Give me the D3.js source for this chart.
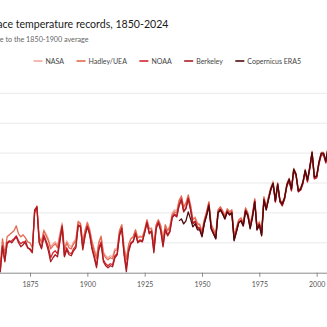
<!DOCTYPE html>
<html>
<head>
<meta charset="utf-8">
<script src="https://cdn.jsdelivr.net/npm/d3@7"></script>
<style>
  html, body { margin: 0; padding: 0; background: #fff; overflow: hidden; }
  svg { display: block; font-family: Lato, "Open Sans", sans-serif; }
</style>
</head>
<body>
<svg id="chart" width="327" height="327"></svg>
<script>
// anomalies in °C relative to the 1850-1900 average
const nasaStart = 1880;
const nasa = [
  0.01, 0.13, 0.09, 0.04, -0.04, -0.01, 0.01, -0.03, 0.09, 0.20,
  -0.06, 0.02, -0.02, -0.04, 0.01, 0.04, 0.22, 0.20, 0.02, 0.13,
  0.21, 0.14, 0.02, -0.06, -0.14, 0.01, 0.07, -0.09, -0.13, -0.15,
  -0.13, -0.14, -0.06, -0.06, 0.12, 0.18, -0.04, -0.16, -0.02, 0.04,
  0.06, 0.13, 0.05, 0.07, 0.05, 0.13, 0.23, 0.14, 0.15, -0.03,
  0.18, 0.23, 0.17, 0.03, 0.18, 0.12, 0.17, 0.30, 0.33, 0.32,
  0.43, 0.46, 0.35, 0.38, 0.46, 0.37, 0.24, 0.26, 0.20, 0.19,
  0.12, 0.23, 0.31, 0.41, 0.19, 0.14, 0.09, 0.33, 0.36, 0.32,
  0.28, 0.34, 0.31, 0.33, 0.07, 0.15, 0.23, 0.25, 0.20, 0.35,
  0.30, 0.18, 0.29, 0.44, 0.16, 0.20, 0.11, 0.46, 0.36, 0.46,
  0.56, 0.62, 0.44, 0.60, 0.43, 0.40, 0.46, 0.60, 0.65, 0.55,
  0.75, 0.69, 0.53, 0.55, 0.61, 0.74, 0.64, 0.77, 0.92, 0.67,
  0.68, 0.82, 0.91, 0.91, 0.83, 0.97, 0.93, 0.96, 0.83, 0.96,
  1.06, 0.93, 0.96, 1.01, 1.05, 1.21, 1.33, 1.24, 1.15, 1.29,
  1.32, 1.16, 1.19, 1.46, 1.56
];
const hadleyStart = 1850;
const hadley = [
  -0.07, 0.08, 0.08, 0.05, 0.05, 0.03, 0.00, -0.12, -0.05, 0.05,
  -0.05, -0.09, -0.22, 0.04, -0.11, 0.06, 0.08, 0.10, 0.12, 0.17,
  0.09, 0.06, 0.08, 0.05, 0.01, 0.00, -0.05, 0.29, 0.37, 0.06,
  0.00, 0.12, 0.07, 0.02, -0.06, -0.03, -0.01, -0.05, 0.07, 0.18,
  -0.08, 0.00, -0.05, -0.06, -0.01, 0.02, 0.21, 0.19, 0.00, 0.12,
  0.20, 0.13, 0.01, -0.08, -0.16, 0.00, 0.06, -0.11, -0.15, -0.17,
  -0.15, -0.16, -0.08, -0.07, 0.12, 0.18, -0.05, -0.17, -0.02, 0.04,
  0.06, 0.13, 0.05, 0.06, 0.06, 0.13, 0.23, 0.14, 0.14, -0.03,
  0.18, 0.23, 0.17, 0.03, 0.18, 0.12, 0.16, 0.28, 0.31, 0.30,
  0.42, 0.47, 0.36, 0.40, 0.48, 0.38, 0.23, 0.25, 0.19, 0.18,
  0.11, 0.23, 0.31, 0.41, 0.18, 0.13, 0.08, 0.33, 0.36, 0.32,
  0.27, 0.34, 0.31, 0.33, 0.07, 0.15, 0.23, 0.25, 0.20, 0.35,
  0.30, 0.18, 0.29, 0.44, 0.16, 0.21, 0.11, 0.46, 0.36, 0.46,
  0.55, 0.60, 0.43, 0.60, 0.43, 0.40, 0.46, 0.59, 0.64, 0.54,
  0.74, 0.69, 0.53, 0.55, 0.61, 0.73, 0.63, 0.76, 0.91, 0.66,
  0.67, 0.81, 0.90, 0.90, 0.82, 0.96, 0.92, 0.94, 0.82, 0.94,
  1.04, 0.91, 0.94, 0.99, 1.03, 1.19, 1.31, 1.21, 1.12, 1.26,
  1.29, 1.13, 1.17, 1.44, 1.53
];
const noaaStart = 1850;
const noaa = [
  -0.14, 0.01, 0.01, -0.02, -0.02, -0.04, -0.07, -0.19, -0.12, -0.02,
  -0.12, -0.16, -0.29, -0.04, -0.19, -0.01, 0.01, 0.02, 0.04, 0.07,
  0.02, -0.01, 0.01, -0.01, -0.05, -0.07, -0.10, 0.31, 0.36, 0.01,
  -0.05, 0.08, 0.02, -0.04, -0.15, -0.10, -0.08, -0.11, 0.03, 0.17,
  -0.13, -0.05, -0.10, -0.11, -0.06, -0.03, 0.18, 0.17, -0.05, 0.08,
  0.17, 0.10, -0.04, -0.13, -0.23, -0.05, 0.01, -0.17, -0.21, -0.23,
  -0.21, -0.22, -0.13, -0.11, 0.08, 0.15, -0.10, -0.25, -0.07, 0.00,
  0.02, 0.10, 0.01, 0.03, 0.02, 0.11, 0.21, 0.10, 0.12, -0.08,
  0.15, 0.21, 0.13, -0.02, 0.14, 0.08, 0.12, 0.26, 0.29, 0.27,
  0.38, 0.44, 0.32, 0.35, 0.45, 0.34, 0.20, 0.22, 0.16, 0.15,
  0.08, 0.21, 0.29, 0.39, 0.15, 0.10, 0.05, 0.31, 0.34, 0.30,
  0.25, 0.32, 0.29, 0.31, 0.04, 0.12, 0.21, 0.23, 0.18, 0.33,
  0.28, 0.16, 0.27, 0.42, 0.14, 0.19, 0.09, 0.44, 0.34, 0.44,
  0.53, 0.59, 0.41, 0.58, 0.41, 0.38, 0.44, 0.57, 0.62, 0.52,
  0.72, 0.67, 0.51, 0.53, 0.59, 0.71, 0.61, 0.74, 0.89, 0.64,
  0.65, 0.79, 0.88, 0.88, 0.80, 0.94, 0.90, 0.92, 0.80, 0.92,
  1.02, 0.89, 0.92, 0.97, 1.01, 1.17, 1.29, 1.19, 1.10, 1.24,
  1.27, 1.11, 1.15, 1.41, 1.51
];
const berkeleyStart = 1850;
const berkeley = [
  -0.12, 0.02, 0.03, -0.01, 0.00, -0.03, -0.06, -0.18, -0.10, 0.00,
  -0.10, -0.14, -0.29, -0.03, -0.18, 0.00, 0.02, 0.00, 0.03, 0.06,
  0.00, -0.04, -0.02, 0.02, -0.05, -0.06, -0.09, 0.33, 0.36, 0.00,
  -0.06, 0.06, 0.00, -0.08, -0.19, -0.15, -0.12, -0.14, 0.01, 0.16,
  -0.14, -0.07, -0.12, -0.13, -0.08, -0.05, 0.17, 0.16, -0.07, 0.07,
  0.16, 0.08, -0.06, -0.15, -0.25, -0.07, -0.01, -0.19, -0.23, -0.25,
  -0.23, -0.24, -0.15, -0.12, 0.07, 0.14, -0.12, -0.29, -0.09, -0.01,
  0.01, 0.09, 0.00, 0.02, 0.01, 0.10, 0.20, 0.09, 0.11, -0.10,
  0.14, 0.20, 0.12, -0.04, 0.13, 0.07, 0.11, 0.25, 0.28, 0.26,
  0.37, 0.43, 0.31, 0.34, 0.44, 0.33, 0.19, 0.21, 0.15, 0.14,
  0.07, 0.20, 0.28, 0.38, 0.14, 0.09, 0.04, 0.30, 0.33, 0.29,
  0.24, 0.31, 0.28, 0.30, 0.03, 0.11, 0.20, 0.22, 0.17, 0.32,
  0.27, 0.15, 0.26, 0.41, 0.13, 0.18, 0.08, 0.43, 0.33, 0.43,
  0.53, 0.59, 0.41, 0.58, 0.41, 0.37, 0.44, 0.57, 0.63, 0.53,
  0.73, 0.68, 0.52, 0.53, 0.60, 0.72, 0.62, 0.75, 0.90, 0.65,
  0.66, 0.80, 0.89, 0.89, 0.81, 0.95, 0.91, 0.93, 0.81, 0.93,
  1.04, 0.91, 0.94, 0.99, 1.03, 1.20, 1.32, 1.22, 1.13, 1.28,
  1.31, 1.15, 1.19, 1.46, 1.56
];
const era5Start = 1940;
const era5 = [
  0.22, 0.24, 0.19, 0.22, 0.31, 0.24, 0.16, 0.19, 0.13, 0.13,
  0.06, 0.19, 0.27, 0.37, 0.14, 0.09, 0.04, 0.30, 0.33, 0.29,
  0.24, 0.31, 0.28, 0.30, 0.02, 0.11, 0.20, 0.22, 0.17, 0.32,
  0.27, 0.14, 0.25, 0.41, 0.13, 0.18, 0.07, 0.43, 0.33, 0.44,
  0.54, 0.60, 0.42, 0.59, 0.42, 0.39, 0.45, 0.58, 0.64, 0.54,
  0.74, 0.69, 0.52, 0.54, 0.61, 0.73, 0.63, 0.76, 0.91, 0.66,
  0.67, 0.81, 0.90, 0.90, 0.82, 0.96, 0.92, 0.94, 0.82, 0.95,
  1.05, 0.92, 0.95, 1.00, 1.04, 1.20, 1.32, 1.22, 1.13, 1.28,
  1.30, 1.14, 1.18, 1.48, 1.60
];

const seriesNames = ['NASA', 'Hadley/UEA', 'NOAA', 'Berkeley', 'Copernicus ERA5'];
const seriesColors = ['#f2a99e', '#e2694f', '#d4242f', '#a81c22', '#4e0a0c'];
const xTicks = [1875, 1900, 1925, 1950, 1975, 2000];
const yTicks = [0, 0.3, 0.6, 0.9, 1.2, 1.5];

const title = 'Global surface temperature records, 1850-2024';
const subtitle = 'Temperature anomaly (°C) relative to the 1850-1900 average';

const series = [
  { name: seriesNames[0], color: seriesColors[0], start: nasaStart, values: nasa },
  { name: seriesNames[1], color: seriesColors[1], start: hadleyStart, values: hadley },
  { name: seriesNames[2], color: seriesColors[2], start: noaaStart, values: noaa },
  { name: seriesNames[3], color: seriesColors[3], start: berkeleyStart, values: berkeley },
  { name: seriesNames[4], color: seriesColors[4], start: era5Start, values: era5 }
].map(s => ({ ...s, points: s.values.map((v, i) => ({ year: s.start + i, value: v })) }));

// the plot is wider than the window; its left part (y labels) falls outside
const margin = { top: 93.3, left: -27.3 };
const width = 399;
const height = 179.4;

const svg = d3.select('#chart');

// title block, right-aligned to where the visible words end
svg.append('text')
  .attr('x', 168.5).attr('y', 27.5)
  .attr('text-anchor', 'end')
  .attr('font-size', 10.6).attr('fill', '#1a1a1a')
  .text(title);

svg.append('text')
  .attr('x', 88.5).attr('y', 41.5)
  .attr('text-anchor', 'end')
  .attr('font-size', 7.2).attr('fill', '#666')
  .text(subtitle);

// legend
const legend = svg.append('g').attr('transform', 'translate(33.5,61)');
let lx = 0;
series.forEach(s => {
  const item = legend.append('g').attr('transform', `translate(${lx},0)`);
  item.append('line')
    .attr('x1', 0).attr('x2', 9).attr('y1', 0).attr('y2', 0)
    .attr('stroke', s.color).attr('stroke-width', 1.6);
  const t = item.append('text')
    .attr('x', 12).attr('y', 2.5)
    .attr('font-size', 7).attr('fill', '#444')
    .text(s.name);
  lx += 12 + t.node().getComputedTextLength() + 12.5;
});

const g = svg.append('g').attr('transform', `translate(${margin.left},${margin.top})`);

const x = d3.scaleLinear().domain([1850, 2024]).range([0, width]);
const y = d3.scaleLinear().domain([-0.3, 1.5]).range([height, 0]);

// gridlines
g.append('g')
  .selectAll('line')
  .data(yTicks)
  .enter()
  .append('line')
  .attr('x1', 0).attr('x2', width)
  .attr('y1', d => y(d)).attr('y2', d => y(d))
  .attr('stroke', '#e9e9e9').attr('stroke-width', 1);

// x axis
const xAxis = g.append('g')
  .attr('transform', `translate(0,${height})`)
  .call(d3.axisBottom(x).tickValues(xTicks).tickFormat(d3.format('d')).tickSize(4).tickPadding(5.5));
xAxis.select('.domain').attr('stroke', '#8a8a8a');
xAxis.selectAll('.tick line').attr('stroke', '#8a8a8a');
xAxis.selectAll('text')
  .attr('font-family', 'Lato, "Open Sans", sans-serif')
  .attr('font-size', 7).attr('fill', '#555');

// lines
const line = d3.line()
  .x(d => x(d.year))
  .y(d => y(d.value));

g.selectAll('.series')
  .data(series)
  .enter()
  .append('path')
  .attr('class', 'series')
  .attr('fill', 'none')
  .attr('stroke', d => d.color)
  .attr('stroke-width', 1.3)
  .attr('stroke-linejoin', 'round')
  .attr('d', d => line(d.points));
</script>
</body>
</html>
